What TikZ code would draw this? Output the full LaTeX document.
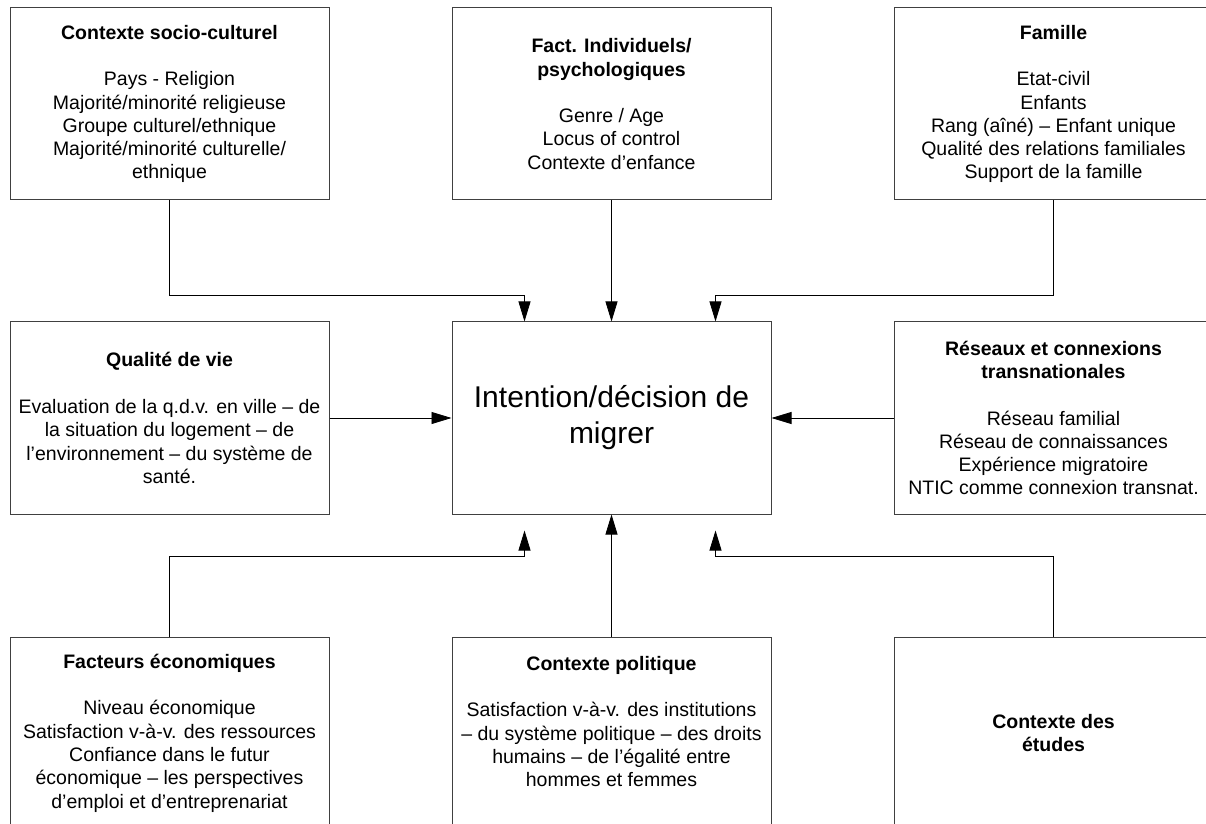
\documentclass[tikz,border=0pt]{standalone}
\usepackage{fontspec}
\setmainfont{Liberation Sans}
\usetikzlibrary{arrows.meta,
positioning}

\begin{document}
\begin{tikzpicture}[
  every node/.style={font=\fontsize{19.5}{23.3}\selectfont},
  factor/.style={
    draw=black!75,
    line width=1pt,
    minimum width=319pt,
    minimum height=192pt,
    inner sep=0pt,
    align=center},
  link/.style={line width=0.8pt, -{Triangle[length=20pt,width=12pt]}}
]

  \useasboundingbox (0,0) rectangle (1206pt,823pt);

  \node [
    factor,
    font=\fontsize{30}{36}\selectfont
  ] (mig) at (611.5pt,405pt) {Intention/décision de\\migrer};
  \node [
    factor,
    above = 121pt of mig
  ] (indiv) {\textbf{Fact. Individuels/}\\\textbf{psychologiques}\\[23.3pt]
    Genre / Age\\Locus of control\\Contexte d’enfance};
  \node [
    factor,
    left = 122pt of indiv
  ] (socio) {\textbf{Contexte socio-culturel}\\[23.3pt]
    Pays - Religion\\Majorité/minorité religieuse\\Groupe culturel/ethnique\\
    Majorité/minorité culturelle/\\ethnique};
  \node [
    factor,
    right = 122pt of indiv
  ] (fam) {\textbf{Famille}\\[23.3pt]
    Etat-civil\\Enfants\\Rang (aîné) – Enfant unique\\
    Qualité des relations familiales\\Support de la famille};
  \node [
    factor,
    left = 122pt of mig
  ] (qual) {\textbf{Qualité de vie}\\[23.3pt]
    Evaluation de la q.d.v. en ville – de\\la situation du logement – de\\
    l’environnement – du système de\\santé.};
  \node [
    factor,
    right = 122pt of mig
  ] (res) {\textbf{Réseaux et connexions}\\\textbf{transnationales}\\[23.3pt]
    Réseau familial\\Réseau de connaissances\\Expérience migratoire\\
    NTIC comme connexion transnat.};
  \node [
    factor,
    below = 122pt of mig
  ] (pol) {\textbf{Contexte politique}\\[23.3pt]
    Satisfaction v-à-v. des institutions\\– du système politique – des droits\\
    humains – de l’égalité entre\\hommes et femmes\\\mbox{}};
  \node [
    factor,
    left = 122pt of pol
  ] (eco) {\textbf{Facteurs économiques}\\[23.3pt]
    Niveau économique\\Satisfaction v-à-v. des ressources\\Confiance dans le futur\\
    économique – les perspectives\\d’emploi et d’entreprenariat};
  \node [
    factor,
    right = 122pt of pol
  ] (etu) {\textbf{Contexte des}\\\textbf{études}};

  \draw [link] (socio.south) -- ++(0,-95pt) -| ([xshift=-87pt]mig.north);
  \draw [link] (indiv) -- (mig);
  \draw [link] (fam.south) -- ++(0,-95pt) -| ([xshift=104pt]mig.north);
  \draw [link] (qual) -- (mig);
  \draw [link] (res) -- (mig);
  \draw [link] (eco.north) -- ++(0,80pt) -| ([xshift=-87pt,yshift=-16pt]mig.south);
  \draw [link] (pol) -- (mig);
  \draw [link] (etu.north) -- ++(0,80pt) -| ([xshift=104pt,yshift=-16pt]mig.south);

\end{tikzpicture}
\end{document}
